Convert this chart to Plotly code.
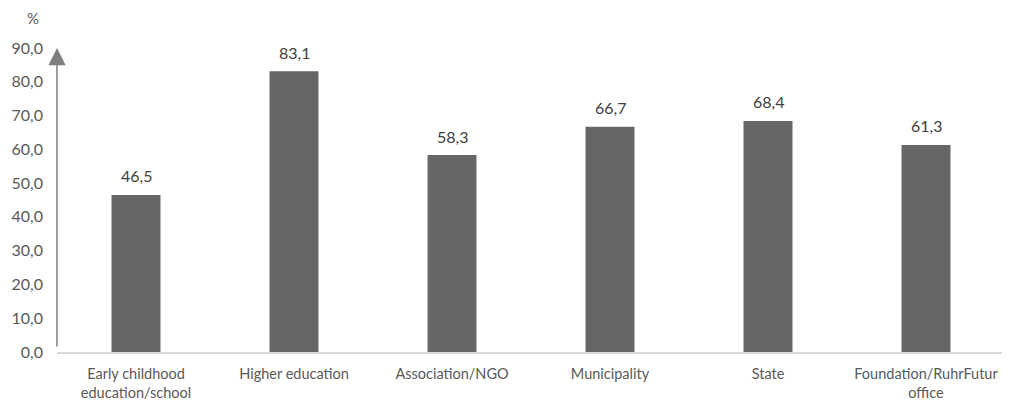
import plotly.graph_objects as go

categories = ["Early childhood<br>education/school", "Higher education", "Association/NGO",
              "Municipality", "State", "Foundation/RuhrFutur<br>office"]
values = [46.5, 83.1, 58.3, 66.7, 68.4, 61.3]
y_ticks = [0, 10, 20, 30, 40, 50, 60, 70, 80, 90]

text_color = "#595959"
font_family = "Lato, 'Open Sans', sans-serif"

# page has an 8px body margin; figure spans page x 8..1010, y 8..403
W, H = 1002, 395
L, R, T, B = 49, 5, 40, 51

fig = go.Figure()
fig.add_trace(go.Bar(
    x=categories, y=values,
    marker=dict(color="#666666", line=dict(width=0)),
    width=0.31,
    hoverinfo="skip",
))

annotations = []
for c, v in zip(categories, values):
    annotations.append(dict(
        x=c, y=v, xref="x", yref="y", text=f"{v:.1f}".replace(".", ","),
        showarrow=False, yanchor="middle", yshift=19,
        font=dict(size=16, color="#404040", family=font_family)))

pw, ph = W - L - R, H - T - B
annotations += [
    dict(x=0, xref="paper", y=90, yref="y", ax=0, ay=300,
         axref="pixel", ayref="pixel", showarrow=True,
         arrowhead=2, arrowsize=2.3, arrowwidth=1.5, arrowcolor="#7f7f7f",
         text=""),
    dict(x=(25 - L) / pw, xref="paper", y=1 + T / ph, yref="paper",
         text="%", showarrow=False, xanchor="center", yanchor="top",
         borderpad=0, font=dict(size=15, color=text_color)),
]

fig.update_layout(
    width=W, height=H,
    margin=dict(l=L, r=R, t=T, b=B, autoexpand=False),
    paper_bgcolor="white", plot_bgcolor="white",
    separators=",.",
    showlegend=False,
    font=dict(family=font_family, color=text_color, size=15),
    xaxis=dict(
        showline=True, linecolor="#d9d9d9", linewidth=1.5,
        tickfont=dict(size=14.5, color=text_color),
        ticks="", showgrid=False, automargin=False, ticklabelstandoff=8,
    ),
    yaxis=dict(
        range=[0, 90], tickvals=y_ticks, tickformat=".1f",
        showgrid=False, showline=False, zeroline=False,
        tickfont=dict(size=16, color=text_color),
        ticks="", ticklabelstandoff=13, automargin=False,
    ),
    annotations=annotations,
)

fig.write_html("out.html")
